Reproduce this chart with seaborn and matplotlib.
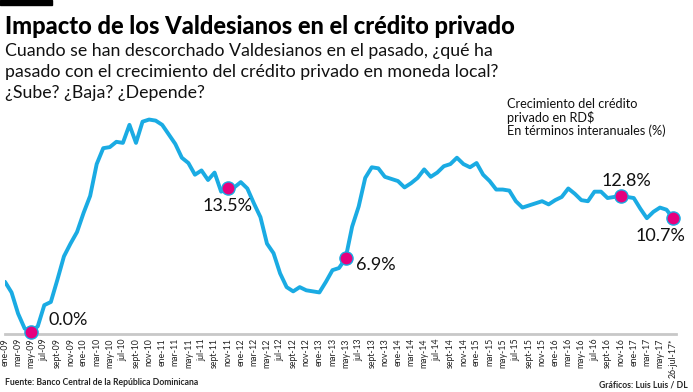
import pandas as pd
import seaborn as sns
import matplotlib.pyplot as plt
from matplotlib.patches import Rectangle

# Crecimiento interanual del crédito privado en RD$ (%), mensual ene-09 .. 26-jul-17
valores = [
    4.7, 3.7, 1.7, 0.3, 0.0, 0.5, 2.5, 2.8, 4.9, 7.1,
    8.3, 9.4, 11.2, 12.8, 15.8, 17.3, 17.4, 17.9, 17.8, 19.5,
    17.8, 19.8, 20.0, 19.9, 19.5, 18.6, 17.7, 16.4, 15.9, 14.8,
    15.2, 14.3, 15.0, 13.2, 13.5, 13.6, 14.1, 13.5, 12.1, 10.8,
    8.3, 7.4, 5.5, 4.2, 3.8, 4.2, 3.9, 3.8, 3.7, 4.7,
    5.8, 6.0, 6.9, 9.9, 11.8, 14.5, 15.5, 15.4, 14.6, 14.4,
    14.2, 13.6, 14.0, 14.5, 15.3, 14.6, 15.0, 15.6, 15.8, 16.4,
    15.8, 15.5, 15.9, 14.8, 14.2, 13.4, 13.4, 13.3, 12.3, 11.7,
    11.9, 12.1, 12.3, 12.0, 12.4, 12.7, 13.5, 13.0, 12.4, 12.3,
    13.2, 13.2, 12.6, 12.7, 12.8, 12.7, 12.6, 11.6, 10.7, 11.3,
    11.7, 11.5, 10.7,
]

meses_etiqueta = ["ene", "mar", "may", "jul", "sept", "nov"]
anios = ["09", "10", "11", "12", "13", "14", "15", "16", "17"]
etiquetas = [f"{m}-{a}" for a in anios for m in meses_etiqueta][:51] + ["26-jul-17*"]
pos_etiquetas = list(range(0, 101, 2)) + [102]

# momentos "Valdesianos" destacados
idx_destacados = [4, 34, 52, 94, 102]
textos_destacados = ["0.0%", "13.5%", "6.9%", "12.8%", "10.7%"]
offsets = [(17, 12, "left"), (0, -18, "center"), (10, -7, "left"), (6, 15, "center"), (-13, -18, "center")]

df = pd.DataFrame({"mes": range(len(valores)), "credito": valores})
dest = df.loc[idx_destacados]

azul = "#1AABE3"
magenta = "#E6007E"

sns.set_style("white")
plt.rcParams["font.family"] = ["Lato", "DejaVu Sans"]

fig = plt.figure(figsize=(6.93, 3.92), dpi=100)
ax = fig.add_axes([5 / 693, (392 - 334) / 392, 671 / 693, 224 / 392])

sns.lineplot(data=df, x="mes", y="credito", color=azul, linewidth=2.8, ax=ax)
sns.scatterplot(data=dest, x="mes", y="credito", color=magenta, s=90,
                edgecolor=azul, linewidth=1, zorder=5, clip_on=False, ax=ax)

for i, t, (dx, dy, ha) in zip(idx_destacados, textos_destacados, offsets):
    ax.annotate(t, (i, valores[i]), xytext=(dx, dy), textcoords="offset pixels",
                ha=ha, va="center", fontsize=13, color="#111111")

ax.set_xlim(0, 102.45)
ax.set_ylim(-0.22, 20.9)
ax.set_xticks(pos_etiquetas)
ax.set_xticklabels(etiquetas, rotation=90, fontsize=6.3, color="#222222")
ax.tick_params(axis="x", length=0, pad=3)
ax.set_yticks([])
ax.set_xlabel("")
ax.set_ylabel("")
for s in ["top", "right", "left"]:
    ax.spines[s].set_visible(False)
ax.spines["bottom"].set_color("#C8C8C8")
ax.spines["bottom"].set_linewidth(2)

def fy(y):
    return 1 - y / 392

fig.patches.append(Rectangle((0, fy(5)), 52 / 693, 5 / 392, transform=fig.transFigure,
                             color="black", zorder=3))
fig.text(5 / 693, fy(34), "Impacto de los Valdesianos en el crédito privado",
         fontsize=17, fontweight="black", va="baseline", color="black")
subt = ["Cuando se han descorchado Valdesianos en el pasado, ¿qué ha",
        "pasado con el crecimiento del crédito privado en moneda local?",
        "¿Sube? ¿Baja? ¿Depende?"]
for k, linea in enumerate(subt):
    fig.text(5 / 693, fy(56 + 21 * k), linea, fontsize=12.8, fontweight="normal",
             va="baseline", color="#111111")

nota = ["Crecimiento del crédito", "privado en RD$", "En términos interanuales (%)"]
for k, linea in enumerate(nota):
    fig.text(507 / 693, fy(108 + 13.5 * k), linea, fontsize=9.2, va="baseline", color="#111111")

fig.text(5 / 693, fy(385), "Fuente: Banco Central de la República Dominicana",
         fontsize=6.2, fontweight="bold", va="baseline")
fig.text(688 / 693, fy(388), "Gráficos: Luis Luis / DL",
         fontsize=6.2, fontweight="bold", va="baseline", ha="right")

fig.savefig("out.png", dpi=100)
